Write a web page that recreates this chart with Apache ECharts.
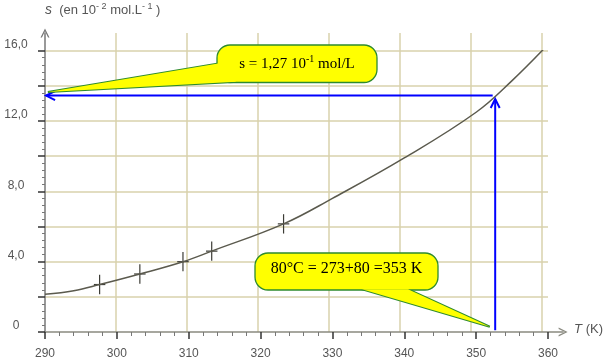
<!DOCTYPE html>
<html>
<head>
<meta charset="utf-8">
<script src="https://cdn.jsdelivr.net/npm/echarts@6/dist/echarts.min.js"></script>
<style>
  html, body { margin: 0; padding: 0; background: #fff; }
  #chart { width: 606px; height: 363px; }
</style>
</head>
<body>
<div id="chart"></div>
<script>
// solubility curve s(T)
var curveT = [290, 294, 297.6, 303.2, 309.2, 313.2, 323.2, 330, 340, 350, 355, 360];
var curveS = [2.15, 2.35, 2.7, 3.3, 4.0, 4.6, 6.15, 7.6, 9.9, 12.5, 14.3, 16.35];

// measured points with their error crosses
var pointT = [297.6, 303.2, 309.2, 313.2, 323.2];
var pointS = [2.7, 3.3, 4.0, 4.6, 6.15];
var errT = [0.8, 0.8, 0.8, 0.8, 0.8];
var errS = [0.55, 0.55, 0.55, 0.55, 0.55];

// reading arrows: [fromT, fromS, toT, toS]
var guideFrom = [[352.3, 13.45], [352.65, 0.1]];
var guideTo = [[290.15, 13.45], [352.65, 13.25]];

// y tick labels (every 4)
var yLabelValues = [0, 4, 8, 12, 16];
var yLabelText = ['0', '4,0', '8,0', '12,0', '16,0'];

// callouts: tip points in data units
var callout1Tip = [290.4, 13.65];
var callout2Tip = [351.9, 0.3];
var callout1Text = 's = 1,27 10{sup|-1} mol/L';
var callout2Text = '80°C = 273+80 =353 K';

var gridColor = '#d8d2ac';
var chevron = 'path://M0,10 L5,0 L10,10 L8.4,10 L5,3 L1.6,10 Z';
var labelFont = 'Arial, "Liberation Sans", sans-serif';
var serifFont = '"Liberation Serif", "Times New Roman", serif';

var chart = echarts.init(document.getElementById('chart'));

var curveData = curveT.map(function (t, i) { return [t, curveS[i]]; });
var pointData = pointT.map(function (t, i) { return [t, pointS[i], errT[i], errS[i]]; });
var guideData = guideFrom.map(function (f, i) { return [f[0], f[1], guideTo[i][0], guideTo[i][1]]; });

var option = {
  animation: false,
  grid: [
    {left: 45, right: 58, top: 50.7, bottom: 31},
    {left: 45, right: 36, top: 33.1, bottom: 31}
  ],
  xAxis: [
    {
      gridIndex: 0, type: 'value', min: 290, max: 360, interval: 10,
      axisLine: {show: false},
      axisTick: {show: true, length: 7, lineStyle: {color: '#333', width: 1.5}},
      minorTick: {show: true, splitNumber: 5, length: 4, lineStyle: {color: '#777', width: 1}},
      axisLabel: {color: '#555', fontSize: 12, fontFamily: labelFont, margin: 16},
      splitLine: {show: false}
    },
    {
      gridIndex: 1, type: 'value', min: 290, max: 363, interval: 10,
      axisLine: {show: true, symbol: ['none', chevron], symbolSize: [9, 10],
        lineStyle: {color: '#8a8a80', width: 1.5}},
      axisTick: {show: false},
      axisLabel: {show: false},
      splitLine: {show: true, showMinLine: false, showMaxLine: false,
        lineStyle: {color: gridColor, width: 1.5}},
      name: '{i|T} (K)',
      nameLocation: 'end',
      nameGap: 11,
      nameTextStyle: {color: '#555', fontSize: 13, fontFamily: labelFont, padding: [0, 0, 6, 0],
        rich: {i: {fontStyle: 'italic', fontSize: 13, fontFamily: labelFont, color: '#555'}}}
    }
  ],
  yAxis: [
    {
      gridIndex: 0, type: 'value', min: 0, max: 16, interval: 2,
      axisLine: {show: false},
      axisTick: {show: true, length: 7, lineStyle: {color: '#333', width: 1.5}},
      minorTick: {show: true, splitNumber: 5, length: 3, lineStyle: {color: '#777', width: 1}},
      axisLabel: {
        color: '#555', fontSize: 12, fontFamily: labelFont, margin: 29,
        align: 'center', verticalAlign: 'bottom', lineHeight: 12,
        formatter: function (v) {
          var k = yLabelValues.indexOf(v);
          return k < 0 ? '' : yLabelText[k];
        }
      },
      splitLine: {show: true, showMinLine: false, lineStyle: {color: gridColor, width: 1.5}}
    },
    {
      gridIndex: 1, type: 'value', min: 0, max: 17,
      axisLine: {show: true, symbol: ['none', chevron], symbolSize: [9, 10],
        lineStyle: {color: '#777', width: 1.5}},
      axisTick: {show: false},
      axisLabel: {show: false},
      splitLine: {show: false},
      name: '{i|s}  (en 10{sup|- 2} mol.L{sup|- 1} )',
      nameLocation: 'end',
      nameGap: 23,
      nameTextStyle: {color: '#555', fontSize: 13, fontFamily: labelFont, align: 'left',
        verticalAlign: 'middle', lineHeight: 16,
        rich: {
          i: {fontStyle: 'italic', fontSize: 14, fontFamily: labelFont, color: '#555', lineHeight: 16},
          sup: {fontSize: 9, fontFamily: labelFont, color: '#555', verticalAlign: 'top', lineHeight: 9}
        }}
    }
  ],
  series: [
    {
      type: 'line', xAxisIndex: 0, yAxisIndex: 0,
      data: curveData, smooth: 0.4, showSymbol: false, silent: true,
      lineStyle: {color: '#5b5a4e', width: 1.5}
    },
    {
      type: 'custom', xAxisIndex: 0, yAxisIndex: 0, clip: false, silent: true,
      data: pointData,
      renderItem: function (params, api) {
        var t = api.value(0), s = api.value(1), et = api.value(2), es = api.value(3);
        var top = api.coord([t, s + es]), bot = api.coord([t, s - es]);
        var lft = api.coord([t - et, s]), rgt = api.coord([t + et, s]);
        var st = {stroke: '#3c3c36', lineWidth: 1.2};
        return {type: 'group', children: [
          {type: 'line', shape: {x1: top[0], y1: top[1], x2: bot[0], y2: bot[1]}, style: st},
          {type: 'line', shape: {x1: lft[0], y1: lft[1], x2: rgt[0], y2: rgt[1]}, style: st}
        ]};
      }
    },
    {
      type: 'custom', xAxisIndex: 0, yAxisIndex: 0, clip: false, silent: true, z: 5,
      data: guideData,
      renderItem: function (params, api) {
        var a = api.coord([api.value(0), api.value(1)]);
        var b = api.coord([api.value(2), api.value(3)]);
        var dx = b[0] - a[0], dy = b[1] - a[1];
        var len = Math.sqrt(dx * dx + dy * dy);
        var ux = dx / len, uy = dy / len;
        var nx = -uy, ny = ux;
        var p1 = [b[0] - ux * 9 + nx * 4.5, b[1] - uy * 9 + ny * 4.5];
        var p2 = [b[0] - ux * 9 - nx * 4.5, b[1] - uy * 9 - ny * 4.5];
        var st = {stroke: '#0000ff', lineWidth: 2, fill: null};
        return {type: 'group', children: [
          {type: 'line', shape: {x1: a[0], y1: a[1], x2: b[0], y2: b[1]}, style: st},
          {type: 'polyline', shape: {points: [p1, b, p2]}, style: st}
        ]};
      }
    }
  ]
};

chart.setOption(option);

function callout(box, tip, base, text, fontSize, dy) {
  var tail = [tip, base[0], base[1]];
  var yellow = '#ffff00', green = '#2e8b2e';
  return [
    {type: 'polygon', z: 100, shape: {points: tail}, style: {fill: yellow, stroke: green, lineWidth: 2}},
    {type: 'rect', z: 101, shape: {x: box[0], y: box[1], width: box[2], height: box[3], r: 13},
      style: {fill: yellow, stroke: green, lineWidth: 1.3}},
    {type: 'polygon', z: 102, shape: {points: tail}, style: {fill: yellow}},
    {type: 'text', z: 103, x: box[0] + box[2] / 2, y: box[1] + box[3] / 2 + dy,
      style: {text: text, fill: '#000', fontSize: fontSize, fontFamily: serifFont,
        align: 'center', verticalAlign: 'middle', lineHeight: 18,
        rich: {sup: {fontSize: 10, fontFamily: serifFont, fill: '#000', verticalAlign: 'top', lineHeight: 10}}}}
  ];
}

var t1 = chart.convertToPixel({gridIndex: 0}, callout1Tip);
var t2 = chart.convertToPixel({gridIndex: 0}, callout2Tip);

chart.setOption({
  graphic: [].concat(
    callout([217, 45, 160, 37.5], t1, [[221, 63], [236, 81.8]], callout1Text, 15, 0),
    callout([255, 253, 183, 37], t2, [[362, 289.2], [408, 289.2]], callout2Text, 16, -3)
  )
});
</script>
</body>
</html>
